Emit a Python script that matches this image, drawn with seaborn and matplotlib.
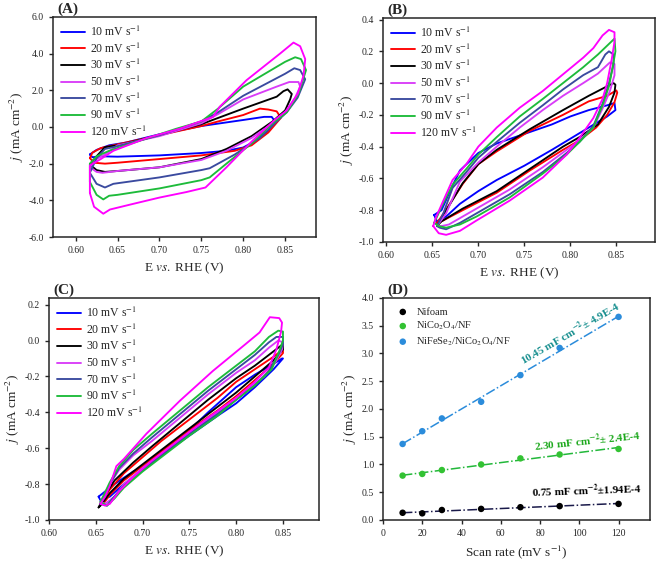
import numpy as np
import pandas as pd
import matplotlib
matplotlib.use("Agg")
import matplotlib.pyplot as plt
import seaborn as sns

# ---- scan rates / legend labels (panels A-C)
scan_labels = ["10", "20", "30", "50", "70", "90", "120"]
scan_colors = ["#0000FF", "#FF0000", "#000000", "#D93CF8", "#3A4A9F", "#1DBB3A", "#FF00FF"]

# ---- panel A: CV loops (E vs RHE, j in mA cm-2)
A_10 = [(0.617, -1.5), (0.620, -1.65), (0.630, -1.6), (0.65, -1.62), (0.70, -1.55), (0.75, -1.42),
        (0.78, -1.3), (0.80, -1.12), (0.815, -0.75), (0.83, -0.2), (0.838, 0.3), (0.834, 0.55),
        (0.825, 0.55), (0.80, 0.38), (0.75, 0.05), (0.70, -0.4), (0.66, -0.85), (0.64, -1.0),
        (0.625, -1.25)]
A_20 = [(0.617, -1.7), (0.622, -1.95), (0.635, -2.0), (0.65, -1.95), (0.70, -1.75), (0.75, -1.55),
        (0.79, -1.3), (0.81, -1.0), (0.83, -0.3), (0.845, 0.5), (0.84, 0.85), (0.83, 0.95),
        (0.82, 1.0), (0.80, 0.65), (0.77, 0.3), (0.75, 0.05), (0.70, -0.45), (0.65, -0.95),
        (0.63, -1.15), (0.62, -1.4)]
A_30 = [(0.617, -2.05), (0.625, -2.35), (0.635, -2.45), (0.65, -2.4), (0.70, -2.2), (0.75, -1.75),
        (0.78, -1.2), (0.81, -0.5), (0.835, 0.3), (0.85, 0.9), (0.856, 1.5), (0.858, 1.8),
        (0.853, 2.05), (0.848, 1.95), (0.84, 1.65), (0.80, 1.0), (0.75, 0.15), (0.70, -0.45),
        (0.65, -1.0), (0.635, -1.1), (0.625, -1.6)]
A_50 = [(0.617, -2.2), (0.625, -2.45), (0.632, -2.5), (0.65, -2.4), (0.70, -2.2), (0.75, -1.8),
        (0.78, -1.3), (0.81, -0.6), (0.835, 0.2), (0.85, 0.8), (0.862, 1.6), (0.868, 2.2),
        (0.866, 2.45), (0.855, 2.45), (0.84, 2.2), (0.80, 1.5), (0.77, 0.7), (0.75, 0.2),
        (0.70, -0.5), (0.65, -1.0), (0.635, -1.5), (0.625, -1.75)]
A_70 = [(0.617, -2.5), (0.625, -3.1), (0.635, -3.3), (0.645, -3.1), (0.70, -2.75), (0.75, -2.35),
        (0.76, -2.25), (0.79, -1.5), (0.82, -0.6), (0.84, 0.3), (0.852, 0.8), (0.865, 1.6),
        (0.874, 2.6), (0.868, 3.1), (0.861, 3.2), (0.85, 2.9), (0.80, 1.7), (0.77, 0.8),
        (0.75, 0.3), (0.70, -0.45), (0.65, -1.05), (0.635, -1.2), (0.625, -1.7)]
A_90 = [(0.617, -3.0), (0.625, -3.7), (0.633, -3.95), (0.64, -3.75), (0.65, -3.7), (0.70, -3.35),
        (0.75, -2.9), (0.76, -2.75), (0.78, -2.0), (0.81, -0.9), (0.835, 0.2), (0.852, 0.8),
        (0.866, 1.8), (0.875, 3.1), (0.869, 3.7), (0.862, 3.8), (0.85, 3.55), (0.80, 2.2),
        (0.77, 1.0), (0.75, 0.3), (0.72, -0.1), (0.70, -0.4), (0.65, -1.15), (0.64, -1.3),
        (0.625, -1.6), (0.617, -2.0)]
A_120 = [(0.617, -3.6), (0.622, -4.35), (0.633, -4.73), (0.641, -4.5), (0.668, -4.2), (0.70, -3.85),
         (0.732, -3.55), (0.755, -3.3), (0.78, -2.2), (0.81, -0.8), (0.838, 0.4), (0.852, 0.9),
         (0.865, 1.8), (0.872, 2.8), (0.874, 3.7), (0.868, 4.4), (0.86, 4.6), (0.844, 4.0),
         (0.804, 2.55), (0.772, 1.1), (0.764, 0.55), (0.724, -0.1), (0.685, -0.6), (0.645, -1.3),
         (0.63, -1.75), (0.617, -2.1)]

# ---- panel B
B_10 = [(0.652, -0.83), (0.66, -0.8), (0.67, -0.67), (0.68, -0.55), (0.70, -0.44), (0.72, -0.38),
        (0.75, -0.32), (0.78, -0.26), (0.80, -0.21), (0.82, -0.17), (0.84, -0.14), (0.848, -0.125),
        (0.849, -0.17), (0.84, -0.21), (0.82, -0.28), (0.80, -0.35), (0.78, -0.42), (0.75, -0.52),
        (0.72, -0.61), (0.70, -0.68), (0.68, -0.76), (0.665, -0.84), (0.655, -0.87)]
B_20 = [(0.655, -0.88), (0.66, -0.84), (0.683, -0.635), (0.70, -0.51), (0.72, -0.43), (0.756, -0.30),
        (0.792, -0.20), (0.82, -0.115), (0.84, -0.08), (0.85, -0.046), (0.851, -0.06), (0.848, -0.12),
        (0.84, -0.2), (0.828, -0.28), (0.81, -0.36), (0.792, -0.42), (0.756, -0.55), (0.72, -0.69),
        (0.683, -0.80), (0.66, -0.87)]
B_30 = [(0.655, -0.9), (0.66, -0.85), (0.683, -0.63), (0.70, -0.51), (0.72, -0.42), (0.756, -0.29),
        (0.792, -0.17), (0.82, -0.08), (0.84, -0.02), (0.847, 0.0), (0.849, -0.01), (0.848, -0.06),
        (0.842, -0.15), (0.83, -0.26), (0.81, -0.34), (0.792, -0.40), (0.756, -0.54), (0.72, -0.68),
        (0.683, -0.79), (0.66, -0.87)]
B_50 = [(0.655, -0.9), (0.665, -0.82), (0.68, -0.62), (0.70, -0.5), (0.72, -0.40), (0.745, -0.28),
        (0.77, -0.17), (0.792, -0.08), (0.814, 0.0), (0.83, 0.06), (0.843, 0.13), (0.848, 0.12),
        (0.848, 0.05), (0.843, -0.05), (0.835, -0.16), (0.825, -0.28), (0.81, -0.36), (0.796, -0.42),
        (0.77, -0.53), (0.734, -0.67), (0.698, -0.79), (0.68, -0.85), (0.668, -0.89), (0.66, -0.9)]
B_70 = [(0.655, -0.9), (0.662, -0.82), (0.672, -0.66), (0.687, -0.56), (0.70, -0.47), (0.72, -0.37),
        (0.745, -0.25), (0.77, -0.14), (0.792, -0.04), (0.814, 0.05), (0.83, 0.1), (0.838, 0.18),
        (0.842, 0.20), (0.847, 0.18), (0.847, 0.12), (0.842, 0.0), (0.835, -0.13), (0.825, -0.27),
        (0.81, -0.37), (0.796, -0.44), (0.77, -0.56), (0.734, -0.7), (0.698, -0.82), (0.68, -0.88),
        (0.665, -0.92), (0.658, -0.91)]
B_90 = [(0.652, -0.88), (0.66, -0.78), (0.672, -0.64), (0.687, -0.54), (0.70, -0.45), (0.72, -0.34),
        (0.745, -0.21), (0.77, -0.10), (0.792, 0.0), (0.814, 0.10), (0.83, 0.18), (0.848, 0.28),
        (0.849, 0.2), (0.846, 0.1), (0.842, -0.02), (0.835, -0.14), (0.825, -0.28), (0.81, -0.37),
        (0.796, -0.45), (0.77, -0.57), (0.734, -0.72), (0.698, -0.84), (0.68, -0.89), (0.665, -0.91),
        (0.657, -0.9)]
B_120 = [(0.651, -0.90), (0.654, -0.845), (0.662, -0.74), (0.672, -0.61), (0.687, -0.51), (0.70, -0.40),
         (0.72, -0.28), (0.745, -0.155), (0.77, -0.05), (0.792, 0.055), (0.814, 0.16), (0.825, 0.22),
         (0.835, 0.30), (0.842, 0.335), (0.848, 0.32), (0.848, 0.26), (0.845, 0.15), (0.84, 0.0),
         (0.835, -0.1), (0.825, -0.22), (0.81, -0.345), (0.796, -0.45), (0.77, -0.595), (0.734, -0.74),
         (0.698, -0.865), (0.68, -0.93), (0.665, -0.955), (0.657, -0.945)]

# ---- panel C
C_10 = [(0.653, -0.87), (0.67, -0.80), (0.69, -0.73), (0.715, -0.665), (0.74, -0.55), (0.77, -0.40),
        (0.80, -0.26), (0.82, -0.19), (0.84, -0.13), (0.849, -0.10), (0.85, -0.10), (0.84, -0.16),
        (0.82, -0.26), (0.80, -0.35), (0.78, -0.42), (0.75, -0.53), (0.72, -0.64), (0.70, -0.72),
        (0.68, -0.80), (0.665, -0.87), (0.655, -0.89)]
C_20 = [(0.655, -0.91), (0.665, -0.83), (0.68, -0.74), (0.70, -0.65), (0.72, -0.56), (0.75, -0.44),
        (0.78, -0.32), (0.80, -0.23), (0.82, -0.16), (0.84, -0.09), (0.85, -0.05), (0.85, -0.07),
        (0.84, -0.13), (0.82, -0.22), (0.80, -0.31), (0.78, -0.39), (0.75, -0.50), (0.72, -0.62),
        (0.70, -0.70), (0.68, -0.78), (0.665, -0.86), (0.658, -0.91)]
C_30 = [(0.653, -0.93), (0.66, -0.86), (0.67, -0.78), (0.69, -0.68), (0.71, -0.59), (0.74, -0.46),
        (0.77, -0.33), (0.80, -0.21), (0.82, -0.14), (0.84, -0.06), (0.85, -0.02), (0.85, -0.05),
        (0.84, -0.11), (0.82, -0.2), (0.80, -0.29), (0.78, -0.37), (0.75, -0.49), (0.72, -0.61),
        (0.70, -0.69), (0.68, -0.77), (0.665, -0.85), (0.655, -0.92)]
C_50 = [(0.655, -0.9), (0.665, -0.8), (0.675, -0.72), (0.69, -0.64), (0.71, -0.56), (0.74, -0.43),
        (0.77, -0.30), (0.80, -0.18), (0.82, -0.11), (0.835, -0.04), (0.845, 0.0), (0.85, -0.01),
        (0.849, -0.05), (0.842, -0.12), (0.83, -0.2), (0.80, -0.32), (0.78, -0.40), (0.75, -0.51),
        (0.72, -0.63), (0.70, -0.71), (0.68, -0.80), (0.67, -0.87), (0.66, -0.91)]
C_70 = [(0.655, -0.91), (0.665, -0.80), (0.675, -0.71), (0.69, -0.63), (0.71, -0.54), (0.74, -0.41),
        (0.77, -0.28), (0.80, -0.16), (0.82, -0.08), (0.835, -0.01), (0.843, 0.02), (0.85, 0.02),
        (0.85, -0.02), (0.845, -0.08), (0.835, -0.17), (0.82, -0.25), (0.80, -0.33), (0.78, -0.41),
        (0.75, -0.52), (0.72, -0.64), (0.70, -0.72), (0.68, -0.81), (0.668, -0.88), (0.662, -0.92)]
C_90 = [(0.655, -0.9), (0.665, -0.79), (0.675, -0.70), (0.69, -0.61), (0.71, -0.52), (0.74, -0.39),
        (0.77, -0.26), (0.80, -0.14), (0.82, -0.06), (0.835, 0.02), (0.845, 0.055), (0.85, 0.05),
        (0.85, 0.0), (0.846, -0.06), (0.838, -0.16), (0.82, -0.25), (0.80, -0.33), (0.78, -0.42),
        (0.75, -0.53), (0.72, -0.65), (0.70, -0.73), (0.68, -0.82), (0.67, -0.88), (0.662, -0.92)]
C_120 = [(0.655, -0.91), (0.66, -0.87), (0.665, -0.81), (0.672, -0.70), (0.68, -0.66), (0.704, -0.52),
         (0.74, -0.335), (0.775, -0.17), (0.81, -0.02), (0.825, 0.045), (0.836, 0.13), (0.846, 0.125),
         (0.849, 0.10), (0.848, 0.05), (0.843, -0.05), (0.835, -0.15), (0.82, -0.23), (0.80, -0.32),
         (0.77, -0.43), (0.74, -0.55), (0.71, -0.67), (0.69, -0.76), (0.675, -0.84), (0.665, -0.91),
         (0.66, -0.92)]

# ---- panel D: capacitive current vs scan rate
scan_rate = [10, 20, 30, 50, 70, 90, 120]
j_nifoam = [0.13, 0.12, 0.18, 0.20, 0.23, 0.25, 0.29]
j_nico = [0.80, 0.83, 0.90, 1.00, 1.11, 1.18, 1.28]
j_nifese = [1.37, 1.60, 1.83, 2.13, 2.61, 3.10, 3.66]

sns.set_style("ticks")
plt.rcParams["font.family"] = ["Liberation Serif", "DejaVu Serif"]
plt.rcParams["mathtext.fontset"] = "stix"
plt.rcParams["axes.linewidth"] = 1.1

fig = plt.figure(figsize=(6.61, 5.63), dpi=100)
axA = fig.add_axes([0.0802, 0.579, 0.398, 0.391])
axB = fig.add_axes([0.5794, 0.5702, 0.4115, 0.3979])
axC = fig.add_axes([0.0741, 0.0764, 0.4085, 0.3943])
axD = fig.add_axes([0.5794, 0.0764, 0.4039, 0.3943])


def draw_cv(ax, loops):
    for loop, lab, col in zip(loops, scan_labels, scan_colors):
        pts = loop + loop[:1]
        df = pd.DataFrame(pts, columns=["E", "j"])
        sns.lineplot(data=df, x="E", y="j", sort=False, estimator=None, color=col,
                     lw=1.35, ax=ax, label=f"{lab} mV s$^{{-1}}$")
    ax.legend(loc="upper left", frameon=False, fontsize=8.5, handlelength=2.1,
              labelspacing=0.2, borderaxespad=0.25, handletextpad=0.35)
    ax.set_xlabel("E $vs.$ RHE (V)", fontsize=9.5)
    ax.set_ylabel("$j$ (mA cm$^{-2}$)", fontsize=9.5, labelpad=2)
    ax.xaxis.set_major_formatter(matplotlib.ticker.FormatStrFormatter("%.2f"))
    ax.yaxis.set_major_formatter(matplotlib.ticker.FormatStrFormatter("%.1f"))
    ax.tick_params(direction="out", length=3, width=1, labelsize=7)


draw_cv(axA, [A_10, A_20, A_30, A_50, A_70, A_90, A_120])
axA.set_xlim(0.573, 0.887)
axA.set_ylim(-6, 6)
axA.set_xticks([0.60, 0.65, 0.70, 0.75, 0.80, 0.85])
axA.set_yticks(np.arange(-6, 6.1, 2))

draw_cv(axB, [B_10, B_20, B_30, B_50, B_70, B_90, B_120])
axB.set_xlim(0.5964, 0.892)
axB.set_ylim(-1.0, 0.41)
axB.set_xticks([0.60, 0.65, 0.70, 0.75, 0.80, 0.85])
axB.set_yticks([-1.0, -0.8, -0.6, -0.4, -0.2, 0.0, 0.2, 0.4])

draw_cv(axC, [C_10, C_20, C_30, C_50, C_70, C_90, C_120])
axC.set_xlim(0.60, 0.8885)
axC.set_ylim(-1.0, 0.237)
axC.set_xticks([0.60, 0.65, 0.70, 0.75, 0.80, 0.85])
axC.set_yticks([-1.0, -0.8, -0.6, -0.4, -0.2, 0.0, 0.2])

# ---- panel D
d_series = [("Nifoam", j_nifoam, "#000000", "#1A1A4A"),
            ("NiCo$_2$O$_4$/NF", j_nico, "#33C233", "#22B83A"),
            ("NiFeSe$_2$/NiCo$_2$O$_4$/NF", j_nifese, "#2B8CDB", "#2B8CDB")]
for name, vals, mcol, lcol in d_series:
    sns.regplot(x=np.array(scan_rate, float), y=np.array(vals), scatter=False, ci=None,
                ax=axD, line_kws=dict(color=lcol, ls="-.", lw=1.1))
    sns.scatterplot(x=scan_rate, y=vals, color=mcol, s=22, edgecolor="none",
                    ax=axD, label=name, zorder=3)
axD.legend(loc="upper left", frameon=False, fontsize=7.5, handletextpad=0.3,
           labelspacing=0.3, borderaxespad=0.5)
axD.set_xlim(0, 136)
axD.set_ylim(0, 4.0)
axD.set_xticks([0, 20, 40, 60, 80, 100, 120])
axD.set_yticks(np.arange(0, 4.01, 0.5))
axD.yaxis.set_major_formatter(matplotlib.ticker.FormatStrFormatter("%.1f"))
axD.tick_params(direction="out", length=3, width=1, labelsize=7)
axD.set_xlabel("Scan rate (mV s$^{-1}$)", fontsize=9.5)
axD.set_ylabel("$j$ (mA cm$^{-2}$)", fontsize=9.5, labelpad=2)

axD.text(97, 3.24, r"10.45 mF cm$^{\mathbf{-2}}$± 4.9E-4", color="#178F8F", fontsize=8,
         fontweight="bold", rotation=30, ha="center", va="bottom", rotation_mode="anchor")
axD.text(104.5, 1.29, r"2.30 mF cm$^{\mathbf{-2}}$± 2.4E-4", color="#1DA81D", fontsize=8,
         fontweight="bold", rotation=6, ha="center", va="bottom", rotation_mode="anchor")
axD.text(104, 0.40, r"0.75 mF cm$^{\mathbf{-2}}$±1.94E-4", color="#000000", fontsize=8,
         fontweight="bold", rotation=2, ha="center", va="bottom", rotation_mode="anchor")

# panel letters
for ax, letter in zip([axA, axB, axC, axD], ["(A)", "(B)", "(C)", "(D)"]):
    ax.text(0.015, 1.005, letter, transform=ax.transAxes, fontsize=11, fontweight="bold",
            ha="left", va="bottom")

fig.savefig("out.png", dpi=100)
